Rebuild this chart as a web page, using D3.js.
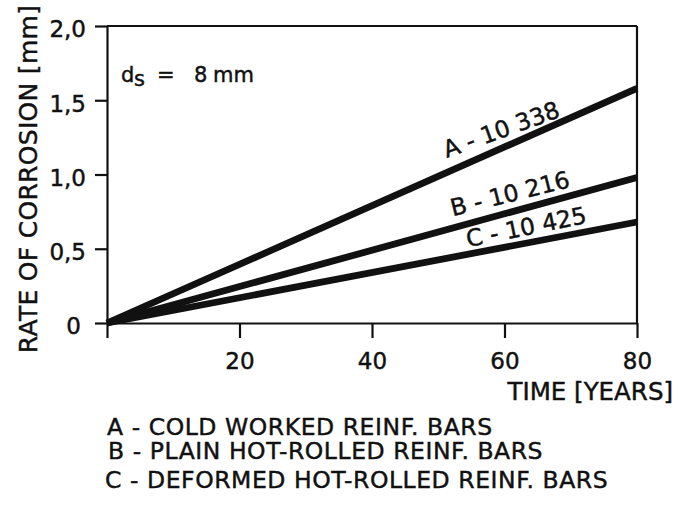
<!DOCTYPE html>
<html>
<head>
<meta charset="utf-8">
<script src="https://cdn.jsdelivr.net/npm/d3@7"></script>
<style>
  html, body { margin: 0; padding: 0; background: #fff; }
  svg { display: block; }
  text { font-family: "DejaVu Sans", sans-serif; fill: #111; stroke: #111; stroke-width: 0.45px; }
</style>
</head>
<body>
<svg id="chart" width="686" height="509"></svg>
<script>
// ---- data ----
const years = [0, 80];
const seriesA = [0, 1.58];
const seriesB = [0, 0.98];
const seriesC = [0, 0.68];
const seriesLabels = ["A - 10 338", "B - 10 216", "C - 10 425"];
const legendItems = [
  "A - COLD WORKED REINF. BARS",
  "B - PLAIN HOT-ROLLED REINF. BARS",
  "C - DEFORMED HOT-ROLLED REINF. BARS"
];
const xTickValues = [0, 20, 40, 60, 80];
const xTickLabels = ["", "20", "40", "60", "80"];
const yTickValues = [0, 0.5, 1.0, 1.5, 2.0];
const yTickLabels = ["0", "0,5", "1,0", "1,5", "2,0"];
const xTitle = "TIME [YEARS]";
const yTitle = "RATE OF CORROSION [mm]";

// ---- layout ----
const svg = d3.select("#chart");
const plot = { left: 107, right: 637, top: 26, bottom: 323 };
const x = d3.scaleLinear().domain([0, 80]).range([plot.left, plot.right]);
const y = d3.scaleLinear().domain([0, 2]).range([plot.bottom, plot.top]);

const axisStroke = 2.2;

// x axis
const gx = svg.append("g").attr("transform", `translate(0,${plot.bottom})`)
  .call(d3.axisBottom(x).tickValues(xTickValues).tickSize(15).tickSizeOuter(0)
    .tickFormat((d, i) => xTickLabels[i]));
gx.select(".domain").attr("stroke", "#111").attr("stroke-width", axisStroke);
gx.selectAll(".tick line").attr("stroke", "#111").attr("stroke-width", axisStroke);
gx.selectAll(".tick text").attr("font-size", 23).attr("y", 46).attr("dy", 0)
  .style("font-family", "DejaVu Sans").attr("fill", "#111");

// y axis
const gy = svg.append("g").attr("transform", `translate(${plot.left},0)`)
  .call(d3.axisLeft(y).tickValues(yTickValues).tickSize(12).tickSizeOuter(0)
    .tickFormat((d, i) => yTickLabels[i]));
gy.select(".domain").attr("stroke", "#111").attr("stroke-width", axisStroke);
gy.selectAll(".tick line").attr("stroke", "#111").attr("stroke-width", axisStroke);
gy.selectAll(".tick text").attr("font-size", 23).attr("x", d => d === 0 ? -26 : -21)
  .attr("dy", "0.47em").style("font-family", "DejaVu Sans").attr("fill", "#111");

// box top and right
svg.append("line").attr("x1", x(0)).attr("x2", x(80)).attr("y1", y(2)).attr("y2", y(2))
  .attr("stroke", "#111").attr("stroke-width", axisStroke);
svg.append("line").attr("x1", x(80)).attr("x2", x(80)).attr("y1", y(2)).attr("y2", y(0))
  .attr("stroke", "#111").attr("stroke-width", axisStroke);

// series lines
const allSeries = [seriesA, seriesB, seriesC];
const line = d3.line().x((d, i) => x(years[i])).y(d => y(d));
svg.selectAll("path.series").data(allSeries).enter().append("path")
  .attr("class", "series")
  .attr("d", d => line(d))
  .attr("fill", "none").attr("stroke", "#111").attr("stroke-width", 6.8)
  .attr("stroke-linecap", "butt");

// series labels along lines
const labelLayout = [
  { sx: 51.3, off: -14.5, rot: -20 },
  { sx: 52.2, off: -11.7, rot: -14 },
  { sx: 54.5, off: -7, rot: -11.5 }
];
allSeries.forEach((s, i) => {
  const L = labelLayout[i];
  const v = s[0] + (s[1] - s[0]) * (L.sx - years[0]) / (years[1] - years[0]);
  svg.append("text")
    .attr("transform", `translate(${x(L.sx)},${y(v) + L.off}) rotate(${L.rot})`)
    .attr("font-size", 23.5)
    .text(seriesLabels[i]);
});

// d_s annotation
const ds = svg.append("text").attr("font-size", 21).attr("y", 82);
ds.append("tspan").attr("x", 121).text("d");
ds.append("tspan").attr("x", 134).attr("dy", 4).text("s");
ds.append("tspan").attr("x", 157).attr("dy", -4).text("=");
ds.append("tspan").attr("x", 194).text("8");
ds.append("tspan").attr("x", 213).text("mm");

// axis titles
svg.append("text").attr("x", 673).attr("y", 400).attr("text-anchor", "end")
  .attr("font-size", 24.5).text(xTitle);
svg.append("text").attr("transform", "translate(37,179) rotate(-90)")
  .attr("text-anchor", "middle").attr("font-size", 25).attr("letter-spacing", 0.3).text(yTitle);

// legend
const legendY = [435, 459, 488];
const legendX = [107, 108, 105];
svg.selectAll("text.legend").data(legendItems).enter().append("text")
  .attr("class", "legend")
  .attr("x", (d, i) => legendX[i]).attr("y", (d, i) => legendY[i])
  .attr("font-size", 23.5).attr("letter-spacing", 0.55).text(d => d);
</script>
</body>
</html>
